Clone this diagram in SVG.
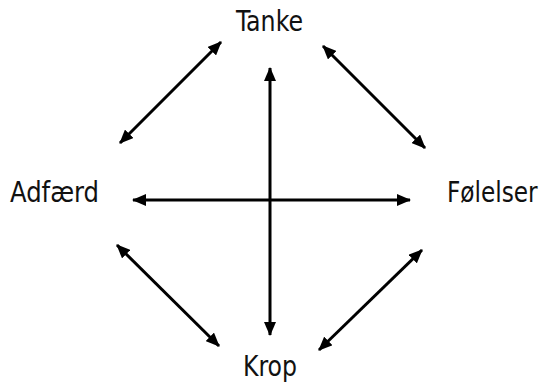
<svg xmlns="http://www.w3.org/2000/svg" width="544" height="382" viewBox="0 0 544 382">
<style>
.lbl{font-family:"Liberation Sans Narrow","DejaVu Sans Condensed","Liberation Sans",sans-serif;font-size:29px;fill:#111;}
.c{stroke:#000;stroke-width:3;fill:none;}
</style>
<defs>
<marker id="a" markerUnits="userSpaceOnUse" markerWidth="14" markerHeight="12" refX="13" refY="6" orient="auto-start-reverse">
<path d="M0,0 L14,6 L0,12 Z" fill="#000"/>
</marker>
</defs>
<rect width="544" height="382" fill="#fff"/>
<g id="connectors">
<line class="c" x1="221" y1="42" x2="120" y2="143" marker-start="url(#a)" marker-end="url(#a)"/>
<line class="c" x1="323" y1="46" x2="425" y2="148" marker-start="url(#a)" marker-end="url(#a)"/>
<line class="c" x1="270" y1="68" x2="270" y2="335" marker-start="url(#a)" marker-end="url(#a)"/>
<line class="c" x1="133" y1="200" x2="410" y2="200" marker-start="url(#a)" marker-end="url(#a)"/>
<line class="c" x1="117" y1="245" x2="219" y2="346" marker-start="url(#a)" marker-end="url(#a)"/>
<line class="c" x1="422" y1="250" x2="319" y2="350" marker-start="url(#a)" marker-end="url(#a)"/>
</g>
<g id="tanke"><text class="lbl" x="236" y="31" textLength="67" lengthAdjust="spacingAndGlyphs">Tanke</text></g>
<g id="adfaerd"><text class="lbl" x="10" y="202" textLength="89" lengthAdjust="spacingAndGlyphs">Adfærd</text></g>
<g id="folelser"><text class="lbl" transform="translate(447 202) scale(0.88 1)" x="0" y="0" textLength="103" lengthAdjust="spacingAndGlyphs">Følelser</text></g>
<g id="krop"><text class="lbl" x="243" y="376" textLength="54" lengthAdjust="spacingAndGlyphs">Krop</text></g>
</svg>
